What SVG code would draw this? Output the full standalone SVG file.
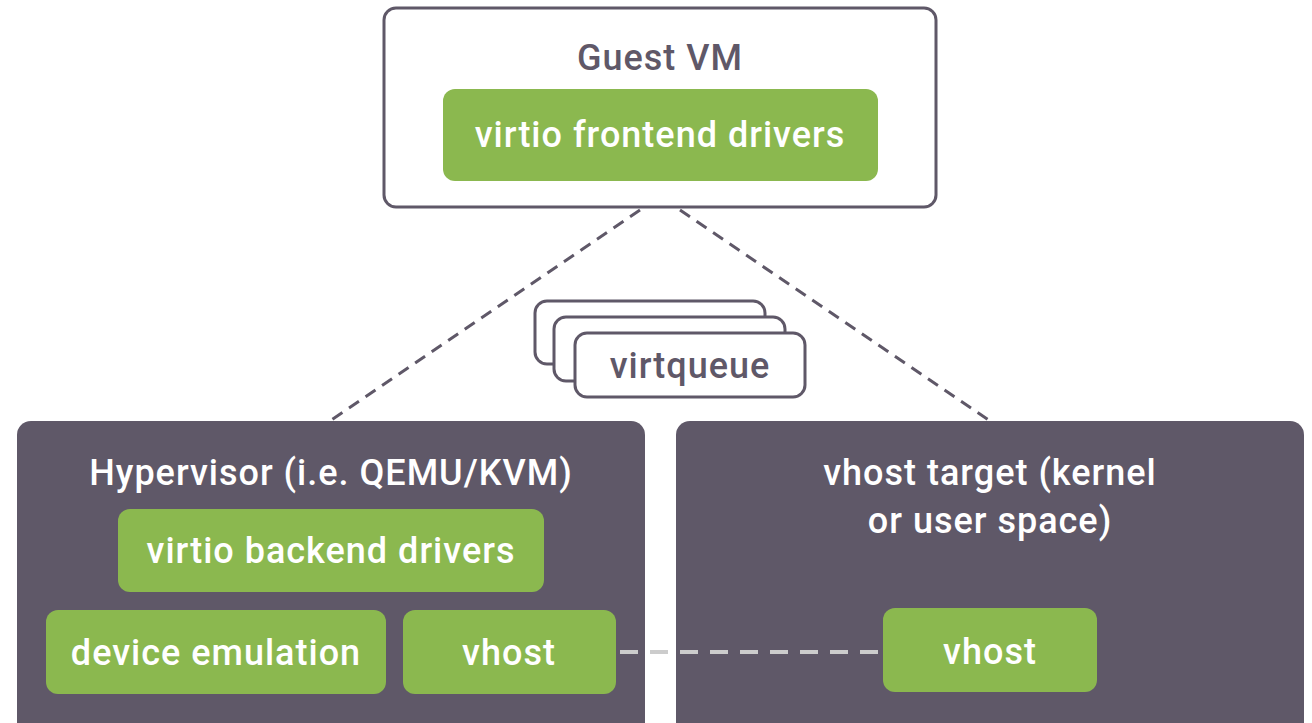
<svg xmlns="http://www.w3.org/2000/svg" width="1312" height="723" viewBox="0 0 1312 723">
<style>
.t{font-family:Roboto,"Liberation Sans",sans-serif;font-size:36px;font-weight:500;text-anchor:middle;letter-spacing:1px}
.w{fill:#ffffff}
.d{fill:#5f5868}
.g{fill:#8bb84f}
.dark{fill:#5f5868}
.outline{fill:#ffffff;stroke:#5f5868;stroke-width:3}
</style>
<rect width="1312" height="723" fill="#ffffff"/>
<g id="guest-vm">
<rect class="outline" x="384" y="8" width="552" height="199" rx="12"/>
<text class="t d" x="660" y="70">Guest VM</text>
</g>
<g id="frontend">
<rect class="g" x="443" y="89" width="435" height="92" rx="12"/>
<text class="t w" x="660" y="147">virtio frontend drivers</text>
</g>
<g id="virtqueue">
<rect class="outline" x="535" y="301" width="230" height="63" rx="12"/>
<rect class="outline" x="554" y="317" width="231" height="64" rx="12"/>
<rect class="outline" x="575" y="333" width="230" height="64" rx="12"/>
<text class="t d" x="690" y="378">virtqueue</text>
</g>
<g id="hypervisor">
<rect class="dark" x="17" y="421" width="628" height="320" rx="14"/>
<text class="t w" x="331" y="485">Hypervisor (i.e. QEMU/KVM)</text>
</g>
<g id="backend">
<rect class="g" x="118" y="509" width="426" height="83" rx="12"/>
<text class="t w" x="331" y="563">virtio backend drivers</text>
</g>
<g id="device-emulation">
<rect class="g" x="46" y="610" width="340" height="84" rx="12"/>
<text class="t w" x="216" y="665">device emulation</text>
</g>
<g id="vhost-hyp">
<rect class="g" x="403" y="610" width="213" height="84" rx="12"/>
<text class="t w" x="509" y="665">vhost</text>
</g>
<g id="vhost-target">
<rect class="dark" x="676" y="421" width="628" height="320" rx="14"/>
<text class="t w" x="990" y="485">vhost target (kernel</text>
<text class="t w" x="990" y="533">or user space)</text>
</g>
<g id="vhost-tgt">
<rect class="g" x="883" y="608" width="214" height="84" rx="12"/>
<text class="t w" x="990" y="664">vhost</text>
</g>
<g id="connectors">
<line x1="640" y1="210" x2="330" y2="421" stroke="#5f5868" stroke-width="3" stroke-dasharray="12 8"/>
<line x1="680" y1="210" x2="990" y2="421" stroke="#5f5868" stroke-width="3" stroke-dasharray="12 8"/>
<line x1="620" y1="652" x2="883" y2="652" stroke="#cccccc" stroke-width="4" stroke-dasharray="18 12"/>
</g>
</svg>
